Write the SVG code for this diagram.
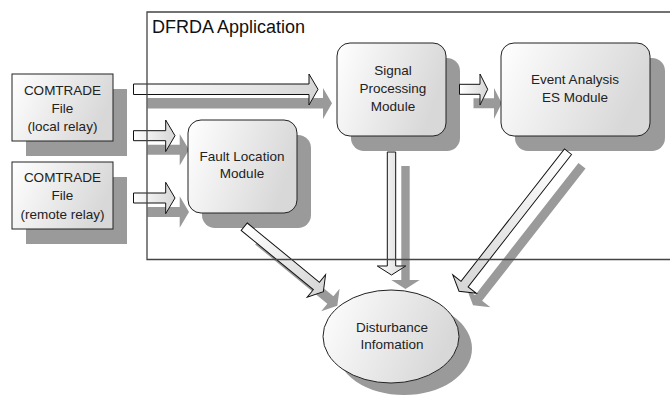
<svg xmlns="http://www.w3.org/2000/svg" xmlns:xlink="http://www.w3.org/1999/xlink" width="670" height="396" viewBox="0 0 670 396">
<style>
.sh{fill:#9a9a9a;stroke:none}
.nd{fill:url(#g);stroke:#222;stroke-width:1}
.ar{fill:url(#ga);stroke:#111;stroke-width:1;stroke-linejoin:miter}
.t{font-family:"Liberation Sans",Arial,sans-serif;font-size:13.5px;fill:#222;text-anchor:middle}
.ttl{font-family:"Liberation Sans",Arial,sans-serif;font-size:18px;fill:#111}
.frame{fill:none;stroke:#444;stroke-width:1.3}
</style>
<defs>
<linearGradient id="g" x1="0" y1="0" x2="1" y2="0.3"><stop offset="0" stop-color="#ffffff"/><stop offset="1" stop-color="#d8d8d8"/></linearGradient>
<linearGradient id="ga" x1="0" y1="0" x2="1" y2="0"><stop offset="0" stop-color="#ffffff"/><stop offset="1" stop-color="#d6d6d6"/></linearGradient>
<path id="aA" d="M133.5,84 L309,84 L309,74 L318,89.3 L309,105 L309,94.5 L133.5,94.5Z"/>
<path id="aB" d="M133.5,130.7 L165.7,130.7 L165.7,120 L175,135.7 L165.7,151.5 L165.7,140.7 L133.5,140.7Z"/>
<path id="aC" d="M133.5,193 L165.7,193 L165.7,182.3 L175,198 L165.7,213.7 L165.7,203 L133.5,203Z"/>
<path id="aD" d="M459.5,84.3 L480,84.3 L480,74 L487.7,89.3 L480,105 L480,94.3 L459.5,94.3Z"/>
<path id="aE" d="M387.3,152 L395.7,152 L395.7,266 L405.7,266 L391.5,275 L377.3,266 L387.3,266Z"/>
<path id="aF" transform="translate(568,151.7) rotate(128)" d="M0,-4.5 L168,-4.5 L168,-15 L177,0 L168,15 L168,4.5 L0,4.5Z"/>
<path id="aG" transform="translate(244.2,226.7) rotate(39.4)" d="M0,-4.8 L93.4,-4.8 L93.4,-14.5 L102.4,0 L93.4,14.5 L93.4,4.8 L0,4.8Z"/>
</defs>
<rect width="670" height="396" fill="#ffffff"/>

<g id="shadows">
<rect class="sh" x="26" y="89" width="101" height="67"/>
<rect class="sh" x="26" y="177" width="101" height="67"/>
<rect class="sh" x="202" y="135" width="109" height="93" rx="13"/>
<rect class="sh" x="351" y="58" width="109" height="93" rx="13"/>
<rect class="sh" x="515" y="58" width="150" height="93" rx="13"/>
<ellipse class="sh" cx="404" cy="348.5" rx="68" ry="46.5"/>
</g>

<g id="connectors">
<g transform="translate(14,14)">
<use xlink:href="#aA" class="sh"/>
<use xlink:href="#aB" class="sh"/>
<use xlink:href="#aC" class="sh"/>
<use xlink:href="#aD" class="sh"/>
<use xlink:href="#aE" class="sh"/>
<g transform="translate(568,151.7) rotate(128)"><path class="sh" d="M0,-4.5 L168,-4.5 L168,-15 L177,0 L168,15 L168,4.5 L0,4.5Z"/></g>
<g transform="translate(244.2,226.7) rotate(39.4)"><path class="sh" d="M0,-4.8 L93.4,-4.8 L93.4,-14.5 L102.4,0 L93.4,14.5 L93.4,4.8 L0,4.8Z"/></g>
</g>
<use xlink:href="#aA" class="ar"/>
<use xlink:href="#aB" class="ar"/>
<use xlink:href="#aC" class="ar"/>
<use xlink:href="#aD" class="ar"/>
<use xlink:href="#aE" class="ar"/>
<use xlink:href="#aF" class="ar"/>
<use xlink:href="#aG" class="ar"/>
</g>

<g id="comtrade-local">
<rect class="nd" x="12" y="74" width="101" height="67"/>
<text class="t" x="62.5" y="95">COMTRADE</text>
<text class="t" x="62.5" y="113">File</text>
<text class="t" x="62.5" y="131">(local relay)</text>
</g>
<g id="comtrade-remote">
<rect class="nd" x="12" y="162" width="101" height="67"/>
<text class="t" x="62.5" y="182">COMTRADE</text>
<text class="t" x="62.5" y="200">File</text>
<text class="t" x="62.5" y="219">(remote relay)</text>
</g>
<g id="fault-location">
<rect class="nd" x="188" y="120" width="109" height="93" rx="13"/>
<text class="t" x="242" y="161">Fault Location</text>
<text class="t" x="242" y="178">Module</text>
</g>
<g id="signal-processing">
<rect class="nd" x="337" y="43" width="109" height="93" rx="13"/>
<text class="t" x="393" y="75">Signal</text>
<text class="t" x="393" y="93">Processing</text>
<text class="t" x="393" y="111">Module</text>
</g>
<g id="event-analysis">
<rect class="nd" x="501" y="43" width="149" height="93" rx="13"/>
<text class="t" x="575" y="84">Event Analysis</text>
<text class="t" x="575" y="102">ES Module</text>
</g>
<g id="disturbance">
<ellipse class="nd" cx="391" cy="336.5" rx="68" ry="46.5"/>
<text class="t" x="392" y="332">Disturbance</text>
<text class="t" x="392" y="349">Infomation</text>
</g>

<g id="dfrda-application">
<path class="frame" d="M672,12 L147,12 L147,259.5 L672,259.5"/>
<text class="ttl" x="152" y="33">DFRDA Application</text>
</g>
</svg>
